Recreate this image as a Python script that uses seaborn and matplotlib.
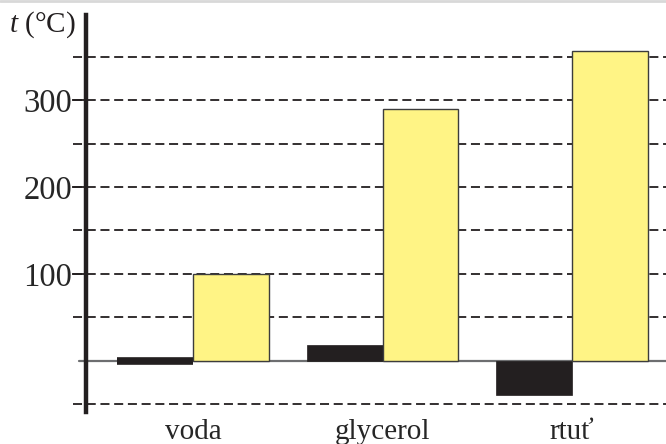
import pandas as pd
import seaborn as sns
import matplotlib.pyplot as plt
from matplotlib.lines import Line2D

sns.set_theme(style="white")
plt.rcParams["font.family"] = ["Liberation Serif", "DejaVu Serif"]
plt.rcParams["mathtext.fontset"] = "custom"
plt.rcParams["mathtext.it"] = "Liberation Serif:italic"
plt.rcParams["mathtext.rm"] = "Liberation Serif"

# data
latky = ["voda", "glycerol", "rtuť"]
t_tani = [0, 18, -39]
t_varu = [100, 290, 357]
grid_levels = [-50, 50, 100, 150, 200, 250, 300, 350]
y_ticks = [100, 200, 300]

df = pd.DataFrame({
    "latka": latky * 2,
    "t": t_tani + t_varu,
    "typ": ["tani"] * 3 + ["varu"] * 3,
})

DARK = "#231f20"
YELLOW = "#fff485"

fig = plt.figure(figsize=(6.66, 4.44), dpi=100)
ax = fig.add_axes([86 / 666, 32 / 444, 580 / 666, 397 / 444])

sns.barplot(data=df, x="latka", y="t", hue="typ", palette=[DARK, YELLOW],
            width=0.8, saturation=1, legend=False, ax=ax, zorder=3)

for p in ax.patches:
    if p.get_facecolor()[0] < 0.5:
        p.set_edgecolor(DARK)
        p.set_linewidth(0.5)
        if p.get_height() == 0:
            # zero melting point shown as a thick bar
            p.set_linewidth(5.5)
    else:
        p.set_edgecolor("#3c3c3c")
        p.set_linewidth(1.0)

for lev in grid_levels:
    ax.axhline(lev, xmin=-0.022, xmax=1, color=DARK, lw=1.3,
               ls=(0, (5, 2.6)), clip_on=False, zorder=1)
ax.axhline(0, xmin=-0.012, xmax=1, color="#6d6e70", lw=1.6, clip_on=False, zorder=2)

ax.set_ylim(-59, 398)
ax.set_xlim(-0.565, 2.496)
ax.set_yticks(y_ticks)
ax.set_yticklabels([str(v) for v in y_ticks], fontsize=23.5)
ax.tick_params(axis="y", direction="out", length=10, width=1.3, color=DARK, pad=0, left=True)
ax.tick_params(axis="x", length=0, pad=5, labelsize=21)
ax.set_xlabel("")
ax.set_ylabel("")
for s in ["top", "right", "bottom"]:
    ax.spines[s].set_visible(False)
ax.spines["left"].set_linewidth(3.2)
ax.spines["left"].set_color(DARK)
ax.spines["left"].set_zorder(4)

fig.text(9 / 666, 1 - 25 / 444, "$t$ (°C)", fontsize=21, va="center", ha="left", color=DARK)
fig.add_artist(Line2D([0, 1], [0.998, 0.998], color="#d8d8d8", lw=2, transform=fig.transFigure))

fig.savefig("out.png", dpi=100)
